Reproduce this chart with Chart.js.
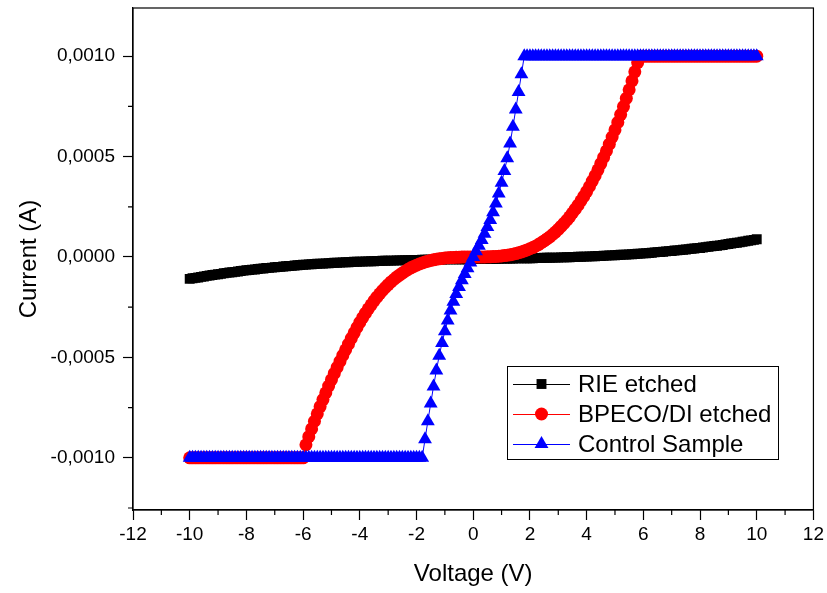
<!DOCTYPE html>
<html>
<head>
<meta charset="utf-8">
<title>I-V curves</title>
<script src="https://cdn.jsdelivr.net/npm/chart.js@4.4.1/dist/chart.umd.min.js"></script>
<style>
  html, body { margin: 0; padding: 0; background: #fff; }
  #wrap { width: 827px; height: 593px; }
</style>
</head>
<body>
<div id="wrap"><canvas id="iv" width="827" height="593"></canvas></div>
<script>
// I-V sweep, -10 V .. +10 V in 0.1 V steps. Currents kept in µA,
// the y axis is labelled in A (Origin style, comma decimals).

const voltage = [
  -10.0, -9.9, -9.8, -9.7, -9.6, -9.5, -9.4, -9.3, -9.2, -9.1,
  -9.0, -8.9, -8.8, -8.7, -8.6, -8.5, -8.4, -8.3, -8.2, -8.1,
  -8.0, -7.9, -7.8, -7.7, -7.6, -7.5, -7.4, -7.3, -7.2, -7.1,
  -7.0, -6.9, -6.8, -6.7, -6.6, -6.5, -6.4, -6.3, -6.2, -6.1,
  -6.0, -5.9, -5.8, -5.7, -5.6, -5.5, -5.4, -5.3, -5.2, -5.1,
  -5.0, -4.9, -4.8, -4.7, -4.6, -4.5, -4.4, -4.3, -4.2, -4.1,
  -4.0, -3.9, -3.8, -3.7, -3.6, -3.5, -3.4, -3.3, -3.2, -3.1,
  -3.0, -2.9, -2.8, -2.7, -2.6, -2.5, -2.4, -2.3, -2.2, -2.1,
  -2.0, -1.9, -1.8, -1.7, -1.6, -1.5, -1.4, -1.3, -1.2, -1.1,
  -1.0, -0.9, -0.8, -0.7, -0.6, -0.5, -0.4, -0.3, -0.2, -0.1,
  0.0, 0.1, 0.2, 0.3, 0.4, 0.5, 0.6, 0.7, 0.8, 0.9,
  1.0, 1.1, 1.2, 1.3, 1.4, 1.5, 1.6, 1.7, 1.8, 1.9,
  2.0, 2.1, 2.2, 2.3, 2.4, 2.5, 2.6, 2.7, 2.8, 2.9,
  3.0, 3.1, 3.2, 3.3, 3.4, 3.5, 3.6, 3.7, 3.8, 3.9,
  4.0, 4.1, 4.2, 4.3, 4.4, 4.5, 4.6, 4.7, 4.8, 4.9,
  5.0, 5.1, 5.2, 5.3, 5.4, 5.5, 5.6, 5.7, 5.8, 5.9,
  6.0, 6.1, 6.2, 6.3, 6.4, 6.5, 6.6, 6.7, 6.8, 6.9,
  7.0, 7.1, 7.2, 7.3, 7.4, 7.5, 7.6, 7.7, 7.8, 7.9,
  8.0, 8.1, 8.2, 8.3, 8.4, 8.5, 8.6, 8.7, 8.8, 8.9,
  9.0, 9.1, 9.2, 9.3, 9.4, 9.5, 9.6, 9.7, 9.8, 9.9,
  10.0
];

// RIE etched (µA)
const rieEtched = [
  -109, -106, -104, -102, -99, -97, -94, -92, -90, -88,
  -86, -84, -81, -79, -77, -76, -74, -72, -70, -68,
  -66, -65, -63, -62, -60, -58, -57, -55, -54, -53,
  -51, -50, -49, -47, -46, -45, -44, -42, -41, -40,
  -39, -38, -37, -36, -35, -34, -33, -33, -32, -31,
  -30, -29, -29, -28, -27, -26, -26, -25, -24, -24,
  -23, -23, -22, -22, -21, -21, -20, -20, -19, -19,
  -18, -18, -18, -17, -17, -17, -16, -16, -16, -15,
  -15, -15, -14, -14, -14, -14, -13, -13, -13, -13,
  -12, -12, -12, -12, -12, -11, -11, -11, -11, -11,
  -10, -10, -10, -10, -10, -9, -9, -9, -9, -9,
  -8, -8, -8, -8, -8, -7, -7, -7, -7, -6,
  -6, -6, -5, -5, -5, -4, -4, -4, -3, -3,
  -3, -2, -2, -1, -1, 0, 0, 1, 1, 2,
  2, 3, 3, 4, 5, 5, 6, 7, 8, 8,
  9, 10, 11, 12, 12, 13, 14, 15, 16, 17,
  18, 19, 20, 21, 23, 24, 25, 26, 28, 29,
  30, 32, 33, 34, 36, 37, 39, 41, 42, 44,
  45, 47, 49, 51, 53, 55, 56, 58, 60, 63,
  65, 67, 69, 71, 73, 76, 78, 81, 83, 85,
  88
];

// BPECO/DI etched (µA), clipped at the ±1 mA compliance
const bpecoEtched = [
  -1000, -1000, -1000, -1000, -1000, -1000, -1000, -1000, -1000, -1000,
  -1000, -1000, -1000, -1000, -1000, -1000, -1000, -1000, -1000, -1000,
  -1000, -1000, -1000, -1000, -1000, -1000, -1000, -1000, -1000, -1000,
  -1000, -1000, -1000, -1000, -1000, -1000, -1000, -1000, -1000, -1000,
  -1000, -935, -895, -856, -818, -781, -745, -710, -676, -643,
  -611, -580, -550, -520, -490, -462, -434, -405, -378, -351,
  -326, -302, -280, -258, -238, -219, -200, -183, -167, -152,
  -138, -124, -112, -100, -90, -80, -71, -62, -54, -47,
  -41, -35, -30, -25, -21, -17, -14, -11, -9, -7,
  -5, -4, -3, -2, -1, -1, 0, 0, 0, 0,
  0, 0, 0, 0, 0, 1, 1, 2, 3, 4,
  5, 7, 9, 11, 14, 17, 21, 25, 30, 35,
  41, 47, 54, 62, 71, 80, 90, 100, 112, 124,
  138, 152, 167, 183, 200, 219, 238, 258, 280, 302,
  326, 351, 378, 405, 434, 465, 496, 528, 562, 597,
  633, 670, 709, 749, 790, 833, 877, 922, 968, 1000,
  1000, 1000, 1000, 1000, 1000, 1000, 1000, 1000, 1000, 1000,
  1000, 1000, 1000, 1000, 1000, 1000, 1000, 1000, 1000, 1000,
  1000, 1000, 1000, 1000, 1000, 1000, 1000, 1000, 1000, 1000,
  1000, 1000, 1000, 1000, 1000, 1000, 1000, 1000, 1000, 1000,
  1000
];

// Control Sample (µA)
const controlSample = [
  -1000, -1000, -1000, -1000, -1000, -1000, -1000, -1000, -1000, -1000,
  -1000, -1000, -1000, -1000, -1000, -1000, -1000, -1000, -1000, -1000,
  -1000, -1000, -1000, -1000, -1000, -1000, -1000, -1000, -1000, -1000,
  -1000, -1000, -1000, -1000, -1000, -1000, -1000, -1000, -1000, -1000,
  -1000, -1000, -1000, -1000, -1000, -1000, -1000, -1000, -1000, -1000,
  -1000, -1000, -1000, -1000, -1000, -1000, -1000, -1000, -1000, -1000,
  -1000, -1000, -1000, -1000, -1000, -1000, -1000, -1000, -1000, -1000,
  -1000, -1000, -1000, -1000, -1000, -1000, -1000, -1000, -1000, -1000,
  -1000, -1000, -1000, -908, -818, -730, -645, -565, -492, -428,
  -370, -316, -266, -223, -184, -149, -116, -85, -56, -28,
  0, 28, 56, 85, 116, 149, 184, 223, 266, 316,
  370, 428, 492, 565, 648, 735, 822, 910, 1000, 1000,
  1000, 1000, 1000, 1000, 1000, 1000, 1000, 1000, 1000, 1000,
  1000, 1000, 1000, 1000, 1000, 1000, 1000, 1000, 1000, 1000,
  1000, 1000, 1000, 1000, 1000, 1000, 1000, 1000, 1000, 1000,
  1000, 1000, 1000, 1000, 1000, 1000, 1000, 1000, 1000, 1000,
  1000, 1000, 1000, 1000, 1000, 1000, 1000, 1000, 1000, 1000,
  1000, 1000, 1000, 1000, 1000, 1000, 1000, 1000, 1000, 1000,
  1000, 1000, 1000, 1000, 1000, 1000, 1000, 1000, 1000, 1000,
  1000, 1000, 1000, 1000, 1000, 1000, 1000, 1000, 1000, 1000,
  1000
];

const seriesNames = ['RIE etched', 'BPECO/DI etched', 'Control Sample'];
const xTicks = [-12, -10, -8, -6, -4, -2, 0, 2, 4, 6, 8, 10, 12];
const xMinorTicks = [-11, -9, -7, -5, -3, -1, 1, 3, 5, 7, 9, 11];
const yTicks = [-1000, -500, 0, 500, 1000];
const yTickLabels = ['-0,0010', '-0,0005', '0,0000', '0,0005', '0,0010'];
const yMinorTicks = [-1250, -750, -250, 250, 750];

const FONT = '"Liberation Sans", Arial, sans-serif';

function pts(arr) { return voltage.map((v, i) => ({ x: v, y: arr[i] })); }

const datasets = [
  { label: seriesNames[0], data: pts(rieEtched), borderColor: '#000000', backgroundColor: '#000000', pointStyle: 'rect', pointRadius: 7, order: 3 },
  { label: seriesNames[1], data: pts(bpecoEtched), borderColor: '#ff0000', backgroundColor: '#ff0000', pointStyle: 'circle', pointRadius: 6.5, order: 2 },
  { label: seriesNames[2], data: pts(controlSample), borderColor: '#0000ff', backgroundColor: '#0000ff', pointStyle: 'triangle', pointRadius: 8, order: 1 }
].map(d => Object.assign({ showLine: true, borderWidth: 1, pointBorderWidth: 0, pointHoverRadius: d.pointRadius, tension: 0 }, d));

// box frame, minor ticks and the Origin-style legend inside the plot
const frameAndLegend = {
  id: 'frameAndLegend',
  afterDraw(chart) {
    const { ctx, chartArea: a, scales: { x, y } } = chart;
    ctx.save();
    ctx.strokeStyle = '#000';
    ctx.lineWidth = 1.2;
    ctx.strokeRect(a.left, a.top, a.right - a.left, a.bottom - a.top);

    ctx.beginPath();
    xMinorTicks.forEach(v => { const px = x.getPixelForValue(v); ctx.moveTo(px, a.bottom); ctx.lineTo(px, a.bottom + 5); });
    yMinorTicks.forEach(v => { const py = y.getPixelForValue(v); ctx.moveTo(a.left, py); ctx.lineTo(a.left - 5, py); });
    ctx.stroke();

    // legend
    ctx.lineWidth = 1;
    ctx.strokeRect(507.5, 366.5, 271, 93);
    const rows = [384, 414, 444];
    ctx.font = '24px ' + FONT;
    ctx.textBaseline = 'middle';
    ctx.textAlign = 'left';
    chart.data.datasets.forEach((ds, i) => {
      const ry = rows[i];
      ctx.strokeStyle = ds.borderColor;
      ctx.lineWidth = 1;
      ctx.beginPath(); ctx.moveTo(513, ry + 0.5); ctx.lineTo(570, ry + 0.5); ctx.stroke();
      ctx.fillStyle = ds.backgroundColor;
      Chart.helpers.drawPoint(ctx, { pointStyle: ds.pointStyle, radius: ds.pointRadius, rotation: 0, borderWidth: 0 }, 541.5, ry);
      ctx.fillStyle = '#000';
      ctx.fillText(ds.label, 578, ry + 1);
    });
    ctx.restore();
  }
};

new Chart(document.getElementById('iv'), {
  type: 'scatter',
  data: { datasets },
  plugins: [frameAndLegend],
  options: {
    responsive: false,
    animation: false,
    devicePixelRatio: 1,
    events: [],
    layout: { padding: { left: 0, right: 11, top: 5, bottom: 0 } },
    plugins: { legend: { display: false }, tooltip: { enabled: false } },
    scales: {
      x: {
        type: 'linear', min: -12, max: 12,
        afterBuildTicks: s => { s.ticks = xTicks.map(v => ({ value: v })); },
        afterFit: s => { s.height = 83; },
        grid: { drawOnChartArea: false, drawTicks: true, tickLength: 10, tickColor: '#000', tickWidth: 1.2 },
        border: { display: true, color: '#000', width: 1.2 },
        ticks: { color: '#000', font: { family: FONT, size: 19 }, padding: 3, maxRotation: 0, autoSkip: false },
        title: { display: true, text: 'Voltage (V)', color: '#000', font: { family: FONT, size: 24 }, padding: { top: 0, bottom: 4 } }
      },
      y: {
        type: 'linear', min: -1260, max: 1240,
        afterBuildTicks: s => { s.ticks = yTicks.map(v => ({ value: v })); },
        afterFit: s => { s.width = 133; s.paddingTop = 0; s.paddingBottom = 0; },
        grid: { drawOnChartArea: false, drawTicks: true, tickLength: 10, tickColor: '#000', tickWidth: 1.2 },
        border: { display: true, color: '#000', width: 1.2 },
        ticks: { color: '#000', font: { family: FONT, size: 19 }, padding: 8, autoSkip: false,
          callback: v => yTickLabels[yTicks.indexOf(v)] },
        title: { display: true, text: 'Current (A)', color: '#000', font: { family: FONT, size: 24 }, padding: { top: 15, bottom: 0 } }
      }
    }
  }
});
</script>
</body>
</html>
